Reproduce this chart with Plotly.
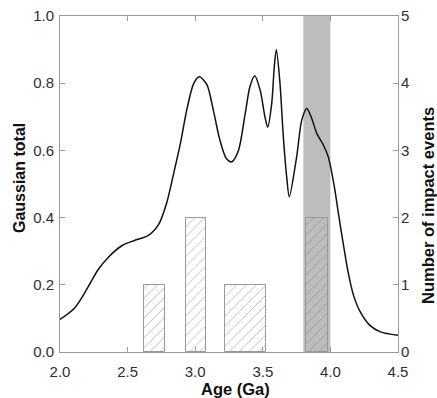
import plotly.graph_objects as go

# Gaussian total curve (age in Ga, value)
age = [2.00, 2.11, 2.21, 2.28, 2.36, 2.46, 2.55, 2.65, 2.73, 2.79, 2.84, 2.89, 2.94, 2.99,
       3.03, 3.085, 3.134, 3.18, 3.23, 3.27, 3.32, 3.37, 3.405, 3.44, 3.48, 3.516, 3.536,
       3.566, 3.585, 3.60, 3.627, 3.652, 3.677, 3.696, 3.75, 3.788, 3.825, 3.862, 3.90,
       3.948, 3.985, 4.03, 4.06, 4.10, 4.13, 4.17, 4.22, 4.29, 4.37, 4.50]
gauss = [0.097, 0.132, 0.195, 0.244, 0.283, 0.317, 0.332, 0.346, 0.38, 0.445, 0.53, 0.62,
         0.725, 0.80, 0.819, 0.797, 0.72, 0.635, 0.576, 0.566, 0.60, 0.71, 0.79, 0.822,
         0.78, 0.70, 0.669, 0.74, 0.849, 0.90, 0.80, 0.64, 0.52, 0.462, 0.58, 0.69, 0.725,
         0.695, 0.65, 0.616, 0.58, 0.49, 0.41, 0.31, 0.24, 0.17, 0.12, 0.08, 0.06, 0.05]

# Impact event histogram (age bins in Ga, counts)
bin_start = [2.62, 2.93, 3.22, 3.82]
bin_end = [2.78, 3.08, 3.52, 3.98]
events = [1, 2, 1, 2]

# Shaded age interval
shade_start, shade_end = 3.8, 4.0

x_ticks = [2.0, 2.5, 3.0, 3.5, 4.0, 4.5]
y_ticks = [0.0, 0.2, 0.4, 0.6, 0.8, 1.0]
y2_ticks = [0, 1, 2, 3, 4, 5]

centers = [(a + b) / 2 for a, b in zip(bin_start, bin_end)]
widths = [b - a for a, b in zip(bin_start, bin_end)]

FONT = "Liberation Sans, Arial, Helvetica, sans-serif"
AX = "#9a9a9a"
TXT = "#2e2e2e"

fig = go.Figure()

fig.add_shape(type="rect", xref="x", yref="paper", x0=shade_start, x1=shade_end,
              y0=0, y1=1, fillcolor="#bdbdbd", line=dict(width=0), layer="below")

fig.add_trace(go.Bar(
    x=centers, y=events, width=widths, yaxis="y2",
    marker=dict(color="rgba(0,0,0,0)",
                line=dict(color="#999999", width=1),
                pattern=dict(shape="/", fgcolor="#7a7a7a", bgcolor="rgba(0,0,0,0)",
                             size=7, solidity=0.14)),
    showlegend=False, hoverinfo="skip"))

fig.add_trace(go.Scatter(
    x=age, y=gauss, mode="lines", line=dict(color="#111111", width=1.5, shape="spline",
                                             smoothing=0.8),
    showlegend=False))

W, H = 437, 398
L, R, T, B = 60, 39, 16, 46
pw, ph = W - L - R, H - T - B

def px_x(p):
    return (p - L) / pw

def px_y(p):
    return (H - B - p) / ph

fig.update_layout(
    width=W, height=H,
    margin=dict(l=L, r=R, t=T, b=B),
    paper_bgcolor="white", plot_bgcolor="white",
    font=dict(family=FONT, size=15, color=TXT),
    xaxis=dict(range=[2.0, 4.5], tickvals=x_ticks, ticktext=[f"{v:.1f}" for v in x_ticks],
               ticks="inside", ticklen=5, tickcolor=AX, showline=True, linecolor=AX,
               linewidth=1, mirror="ticks", showgrid=False, zeroline=False,
               automargin=False, ticklabelstandoff=6),
    yaxis=dict(range=[0, 1], tickvals=y_ticks, ticktext=[f"{v:.1f}" for v in y_ticks],
               ticks="inside", ticklen=5, tickcolor=AX, showline=True, linecolor=AX,
               linewidth=1, mirror=True, showgrid=False, zeroline=False,
               automargin=False, ticklabelstandoff=2),
    yaxis2=dict(range=[0, 5], tickvals=y2_ticks, overlaying="y", side="right",
                ticks="inside", ticklen=5, tickcolor=AX, showline=False,
                showgrid=False, zeroline=False, automargin=False, ticklabelstandoff=2),
    bargap=0,
    annotations=[
        dict(text="<b>Age (Ga)</b>", xref="paper", yref="paper", x=px_x(235), y=px_y(389),
             showarrow=False, font=dict(family=FONT, size=16.5, color="#111111"),
             xanchor="center", yanchor="middle"),
        dict(text="<b>Gaussian total</b>", xref="paper", yref="paper", x=px_x(20),
             y=px_y(178), showarrow=False,
             font=dict(family=FONT, size=16, color="#111111"), textangle=-90,
             xanchor="center", yanchor="middle"),
        dict(text="<b>Number of impact events</b>", xref="paper", yref="paper",
             x=px_x(428), y=px_y(206), showarrow=False,
             font=dict(family=FONT, size=16.5, color="#111111"), textangle=-90,
             xanchor="center", yanchor="middle"),
    ],
)

fig.write_html("out.html", config={"displayModeBar": False},
               post_script="document.body.style.margin='0';document.body.style.overflow='hidden';")
